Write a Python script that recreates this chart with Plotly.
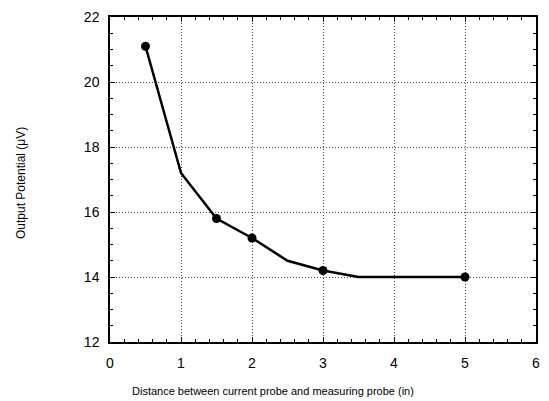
import plotly.graph_objects as go

distance_in = [0.5, 1.0, 1.5, 2.0, 2.5, 3.0, 3.5, 5.0]
potential_uv = [21.1, 17.2, 15.8, 15.2, 14.5, 14.2, 14.0, 14.0]
measured_distance = [0.5, 1.5, 2.0, 3.0, 5.0]
measured_potential = [21.1, 15.8, 15.2, 14.2, 14.0]

x_title = "Distance between current probe and measuring probe (in)"
y_title = "Output Potential (\u03bcV)"

font_family = "Liberation Sans, Arial, sans-serif"

fig = go.Figure()
fig.add_trace(go.Scatter(x=distance_in, y=potential_uv, mode="lines",
                         line=dict(color="black", width=2.5), showlegend=False))
fig.add_trace(go.Scatter(x=measured_distance, y=measured_potential, mode="markers",
                         marker=dict(color="black", size=9), showlegend=False))

axis_common = dict(
    showline=True, linecolor="black", linewidth=1.5, mirror="ticks",
    ticks="inside", ticklen=5, tickcolor="black", tickwidth=1,
    showgrid=True, gridcolor="#444444", griddash="1px,2px", gridwidth=1,
    zeroline=False,
    tickfont=dict(family=font_family, size=14, color="black"),
)

fig.update_xaxes(range=[0, 6], dtick=1, tick0=0, ticklabelstandoff=7,
                 minor=dict(dtick=0.2, ticks="inside", ticklen=3, tickcolor="black", showgrid=False),
                 **axis_common)
fig.update_yaxes(range=[12, 22], dtick=2, tick0=12, ticklabelstandoff=6,
                 minor=dict(dtick=0.5, ticks="inside", ticklen=3, tickcolor="black", showgrid=False),
                 **axis_common)

fig.add_annotation(text=x_title, xref="paper", yref="paper", x=0.3826, y=-0.15,
                   xanchor="center", yanchor="middle", showarrow=False,
                   font=dict(family=font_family, size=11, color="black"))
fig.add_annotation(text=y_title, xref="paper", yref="paper", x=-0.209, y=0.489,
                   xanchor="center", yanchor="middle", showarrow=False, textangle=-90,
                   font=dict(family=font_family, size=12, color="black"))

fig.update_layout(width=549, height=401, margin=dict(l=110, r=9, t=15, b=59),
                  plot_bgcolor="white", paper_bgcolor="white",
                  font=dict(family=font_family, color="black"))

fig.write_html("out.html")
